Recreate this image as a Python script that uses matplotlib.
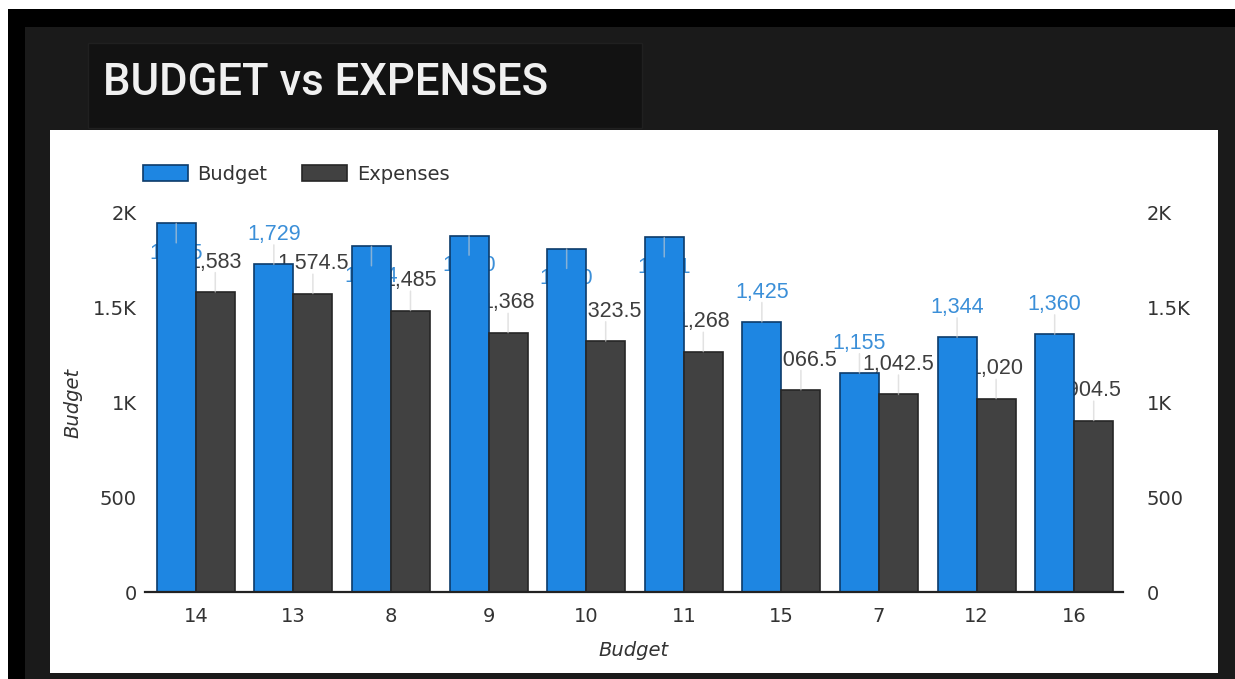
import numpy as np
import matplotlib.pyplot as plt
from matplotlib.patches import Rectangle

categories = ['14', '13', '8', '9', '10', '11', '15', '7', '12', '16']
budget = [1945, 1729, 1824, 1880, 1810, 1871, 1425, 1155, 1344, 1360]
expenses = [1583, 1574.5, 1485, 1368, 1323.5, 1268, 1066.5, 1042.5, 1020, 904.5]
y_ticks = [0, 500, 1000, 1500, 2000]
y_tick_labels = ['0', '500', '1K', '1.5K', '2K']

# which budget labels sit above the bar (the others end up hidden behind it)
budget_label_up = [False, True, False, False, False, False, True, True, True, True]

W, H = 1235, 679
fig = plt.figure(figsize=(W / 100, H / 100), dpi=100)
fig.patch.set_facecolor('white')

def box(x0, y0, x1, y1, color, z, ec='none'):
    # pixel box (top-left origin) -> figure coords
    fig.add_artist(Rectangle((x0 / W, 1 - y1 / H), (x1 - x0) / W, (y1 - y0) / H,
                             transform=fig.transFigure, facecolor=color,
                             edgecolor=ec, zorder=z))

box(8, 9, W, H, '#000000', -10)
box(25, 27, W, H, '#1a1a1a', -9)
box(88, 43, 642, 128, '#121212', -8, ec='#202020')
box(50, 130, 1218, 673, '#ffffff', -7)

fig.text(103 / W, 1 - 95 / H, 'BUDGET vs EXPENSES', fontsize=31.5,
         fontfamily='Roboto', fontweight='medium', color='#f0f0f0', va='baseline')

ax = fig.add_axes([145 / W, 87 / H, (1123 - 145) / W, 379 / H])
ax.set_facecolor('none')
x = np.arange(len(categories))
w = 0.4
blue = '#1e86e2'
grey = '#414141'
b1 = ax.bar(x - w / 2, budget, w, color=blue, edgecolor='#0c3b6a', lw=1.2,
            zorder=2, label='Budget')
b2 = ax.bar(x + w / 2, expenses, w, color=grey, edgecolor='#262626', lw=1.2,
            zorder=2, label='Expenses')

def fmt(v):
    return f"{v:,.1f}" if v % 1 else f"{v:,.0f}"

lab_font = dict(fontfamily='Liberation Sans', fontsize=15.5)
for i in range(len(categories)):
    for xx, v, col, up in [(x[i] - w / 2, budget[i], '#3b8fd8', budget_label_up[i]),
                           (x[i] + w / 2, expenses[i], '#3e3e3e', True)]:
        off = 21.5 if up else -21.5
        ax.annotate(fmt(v), xy=(xx, v), xytext=(0, off), textcoords='offset points',
                    ha='center', va='center', color=col, zorder=1,
                    annotation_clip=False, **lab_font)
        ln = 14 if up else -14
        ax.annotate('', xy=(xx, v), xytext=(0, ln), textcoords='offset points',
                    arrowprops=dict(arrowstyle='-', color='#cfcfcf', lw=1.1,
                                    alpha=0.6, shrinkA=0, shrinkB=0),
                    zorder=3, annotation_clip=False)

ax.set_xlim(-0.52, 9.5)
ax.set_ylim(0, 2000)
ax.set_xticks(x)
ax.set_xticklabels(categories)
ax.set_yticks(y_ticks)
ax.set_yticklabels(y_tick_labels)
for s in ['top', 'right', 'left']:
    ax.spines[s].set_visible(False)
ax.spines['bottom'].set_color('#222222')
ax.spines['bottom'].set_linewidth(1.6)
ax.spines['bottom'].set_zorder(4)
ax.tick_params(axis='x', length=0, pad=10.5, labelsize=14, labelcolor='#333333')
ax.tick_params(axis='y', length=0, pad=5.8, labelsize=14, labelcolor='#333333')

ax.set_xlabel('Budget', fontsize=14, style='italic', color='#333333')
ax.xaxis.set_label_coords(0.5, -0.13)
ax.set_ylabel('Budget', fontsize=14, style='italic', color='#333333')
ax.yaxis.set_label_coords(-0.064, 0.5)

ax2 = ax.twinx()
ax2.set_ylim(0, 2000)
ax2.set_yticks(y_ticks)
ax2.set_yticklabels(y_tick_labels)
for s in ax2.spines.values():
    s.set_visible(False)
ax2.tick_params(axis='y', length=0, pad=17, labelsize=14, labelcolor='#333333')

leg = ax.legend(handles=[b1, b2], loc='upper left',
                bbox_to_anchor=(143 / W, 1 - 165 / H), bbox_transform=fig.transFigure,
                ncol=2, frameon=False, fontsize=14, handlelength=2.3, handleheight=0.9,
                handletextpad=0.5, columnspacing=1.8, borderpad=0, borderaxespad=0)
for t in leg.get_texts():
    t.set_color('#333333')

fig.savefig('out.png', dpi=100)
